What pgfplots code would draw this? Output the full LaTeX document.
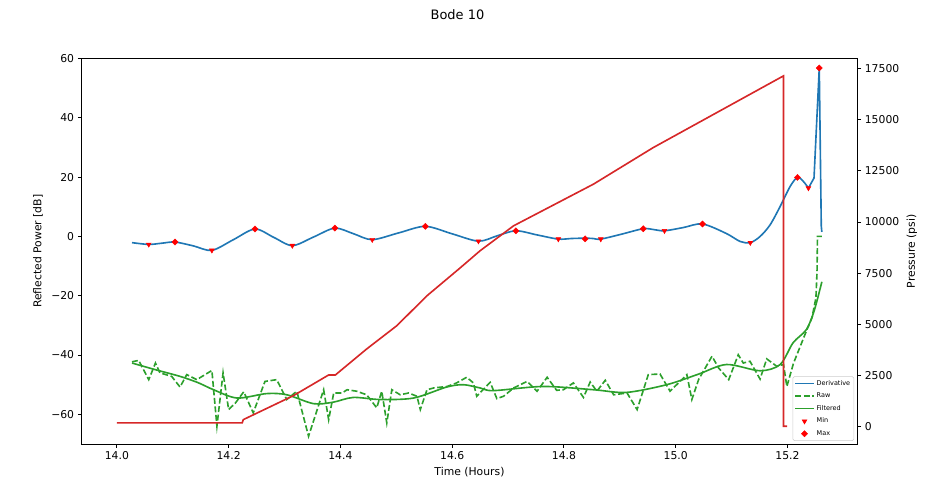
\documentclass[border=0pt]{standalone}
\usepackage{fontspec}
\setmainfont{DejaVu Sans}
\usepackage{pgfplots}
\pgfplotsset{compat=1.18}

\definecolor{mplblue}{HTML}{1F77B4}
\definecolor{mplgreen}{HTML}{2CA02C}
\definecolor{mplred}{HTML}{D62728}

\newlength\px
\setlength\px{0.925pt}

\pgfplotsset{
  twin/.style={
    scale only axis,
    width=717.4pt, height=356.6pt,
    xmin=13.937, xmax=15.325,
    tick align=outside,
    major tick length=3.5pt,
    tick style={black, line width=0.8pt},
    axis line style={line width=0.8pt},
    ticklabel style={font=\fontsize{10}{12}\selectfont},
    label style={font=\fontsize{10}{12}\selectfont},
    /pgf/number format/assume math mode=true,
  },
  derivstyle/.style={color=mplblue, line width=1.5pt},
  rawstyle/.style={color=mplgreen, line width=1.5pt, dash pattern=on 5.5pt off 2.4pt},
  filtstyle/.style={color=mplgreen, line width=1.5pt},
  minstyle/.style={only marks, mark=triangle*, mark size=2.6pt, color=red,
    mark options={rotate=180, fill=red, draw=red, solid}},
  maxstyle/.style={only marks, mark=square*, mark size=2.0pt, color=red,
    mark options={rotate=45, fill=red, draw=red, solid}},
}

\begin{document}
\begin{tikzpicture}
\useasboundingbox (-81.7\px,-46\px) rectangle (866.3\px,444\px);

\node[font=\fontsize{12}{14}\selectfont] at (375.8\px,429\px) {Bode 10};

% Reflected power (left axis)
\begin{axis}[twin,
  ymin=-70, ymax=60,
  xtick={14,14.2,14.4,14.6,14.8,15,15.2},
  xticklabels={14.0,14.2,14.4,14.6,14.8,15.0,15.2},
  ytick={-60,-40,-20,0,20,40,60},
  yticklabels={−60,−40,−20,0,20,40,60},
  xtick pos=left, ytick pos=left,
  xlabel={Time (Hours)},
  ylabel={Reflected Power [dB]},
  every axis x label/.style={at={(axis description cs:0.5,-0.0726)},anchor=center},
  every axis y label/.style={at={(axis description cs:-0.0563,0.5)},rotate=90,anchor=center},
  legend style={at={(axis description cs:0.996,0.008)}, anchor=south east,
    font=\fontsize{6}{7}\selectfont, draw=black!20, fill=white,
    rounded corners=1.5pt, inner sep=1.5pt, row sep=1.6pt},
  legend cell align=left,
]
\addplot[derivstyle, smooth, forget plot] coordinates {
  (14.027,-2.1) (14.057,-2.7) (14.080,-2.3) (14.104,-1.9) (14.137,-3.2)
  (14.170,-4.7) (14.2085,-1.1) (14.247,2.5) (14.2805,-0.3) (14.314,-3.1)
  (14.352,-0.2) (14.390,2.8) (14.4235,0.9) (14.457,-1.1) (14.5045,1.2)
  (14.552,3.4) (14.5995,0.9) (14.647,-1.6) (14.6805,0.2) (14.714,1.9)
  (14.752,0.5) (14.790,-0.9) (14.814,-0.7) (14.838,-0.6) (14.852,-0.7)
  (14.866,-0.9) (14.904,0.8) (14.942,2.6) (14.961,2.3) (14.980,1.9)
  (15.014,3.0) (15.048,4.2) (15.0905,1.0) (15.1154,-1.7) (15.1336,-2.1)
  (15.1512,0.0) (15.169,3.9) (15.187,10.1) (15.205,16.9) (15.218,19.9)
  (15.2287,18.5) (15.2376,16.3)
};
\addplot[derivstyle, forget plot] coordinates {
  (15.2376,16.3) (15.2476,19.7) (15.257,56.8) (15.2606,3.5) (15.2616,1.5)
};
\addplot[rawstyle, forget plot] coordinates {
  (14.027,-42.3) (14.039,-41.8) (14.057,-48.3) (14.069,-42.7) (14.077,-46.0)
  (14.098,-47.2) (14.113,-50.8) (14.125,-46.6) (14.143,-48.3) (14.170,-45.2)
  (14.179,-64.0) (14.190,-46.0) (14.200,-58.4) (14.212,-56.2) (14.227,-52.4)
  (14.244,-59.5) (14.265,-48.9) (14.286,-48.3) (14.304,-55.0) (14.322,-52.2)
  (14.343,-67.4) (14.370,-51.7) (14.379,-61.8) (14.388,-52.8) (14.403,-52.8)
  (14.412,-51.7) (14.429,-52.2) (14.447,-53.4) (14.465,-57.8) (14.474,-52.2)
  (14.483,-62.9) (14.492,-51.7) (14.507,-53.4) (14.522,-52.8) (14.537,-53.9)
  (14.543,-58.4) (14.555,-51.7) (14.567,-51.1) (14.591,-50.6) (14.608,-49.4)
  (14.626,-47.5) (14.638,-49.4) (14.644,-53.9) (14.668,-49.2) (14.680,-54.7)
  (14.692,-53.9) (14.710,-51.1) (14.734,-48.9) (14.752,-52.2) (14.770,-47.5)
  (14.787,-51.9) (14.799,-51.7) (14.817,-49.4) (14.835,-54.3) (14.847,-49.1)
  (14.859,-52.2) (14.874,-48.5) (14.889,-53.4) (14.913,-52.8) (14.931,-58.4)
  (14.951,-46.6) (14.972,-46.4) (14.990,-52.2) (15.020,-46.6) (15.029,-55.0)
  (15.041,-48.3) (15.065,-40.4) (15.077,-44.4) (15.095,-48.3) (15.112,-39.9)
  (15.121,-42.7) (15.133,-42.1) (15.151,-48.1) (15.163,-41.3) (15.181,-43.8)
  (15.193,-43.2) (15.199,-50.6) (15.211,-42.7) (15.235,-31.4) (15.244,-27.4)
  (15.251,-20.7) (15.253,-12.0) (15.2538,0.0) (15.2616,0.0)
};
\addplot[filtstyle, smooth, forget plot] coordinates {
  (14.027,-42.7) (14.070,-45.0) (14.113,-47.2) (14.145,-49.3) (14.173,-51.7)
  (14.215,-54.5) (14.268,-53.0) (14.304,-53.4) (14.352,-56.4) (14.387,-55.9)
  (14.423,-54.3) (14.471,-55.0) (14.531,-54.5) (14.590,-50.8) (14.620,-50.0)
  (14.650,-51.1) (14.674,-52.0) (14.763,-50.6) (14.853,-51.7) (14.912,-52.6)
  (14.984,-50.0) (15.040,-46.5) (15.091,-43.2) (15.151,-45.3) (15.187,-43.2)
  (15.210,-35.9) (15.234,-31.4) (15.248,-25.0) (15.2616,-15.3)
};
\addplot[minstyle, forget plot] coordinates {
  (14.057,-2.7) (14.170,-4.7) (14.314,-3.1) (14.457,-1.1) (14.647,-1.6)
  (14.790,-0.9) (14.866,-0.9) (14.980,1.9) (15.1336,-2.1) (15.2376,16.3)
};
\addplot[maxstyle, forget plot] coordinates {
  (14.104,-1.9) (14.247,2.5) (14.390,2.8) (14.552,3.4) (14.714,1.9)
  (14.838,-0.8) (14.942,2.6) (15.048,4.2) (15.218,19.9) (15.257,56.8)
};
\addlegendimage{derivstyle}
\addlegendentry{Derivative}
\addlegendimage{rawstyle}
\addlegendentry{Raw}
\addlegendimage{filtstyle}
\addlegendentry{Filtered}
\addlegendimage{minstyle}
\addlegendentry{Min}
\addlegendimage{maxstyle}
\addlegendentry{Max}
\end{axis}

% Pressure (right axis)
\begin{axis}[twin,
  ymin=-850, ymax=17990,
  axis x line=none,
  axis y line*=right,
  scaled y ticks=false,
  ytick={0,2500,5000,7500,10000,12500,15000,17500},
  yticklabel style={/pgf/number format/1000 sep={}},
  ylabel={Pressure (psi)},
  every axis y label/.style={at={(axis description cs:1.0705,0.5)},rotate=90,anchor=center},
]
\addplot[color=mplred, line width=1.5pt] coordinates {
  (14.0,181) (14.2242,181) (14.2262,340) (14.2326,425) (14.316,1514)
  (14.379,2524) (14.391,2524) (14.447,3794) (14.501,4932) (14.555,6396)
  (14.614,7749) (14.650,8594) (14.710,9814) (14.853,11851) (14.960,13638)
  (15.1929,17139) (15.1929,15) (15.1995,15)
};
\end{axis}
\end{tikzpicture}
\end{document}
